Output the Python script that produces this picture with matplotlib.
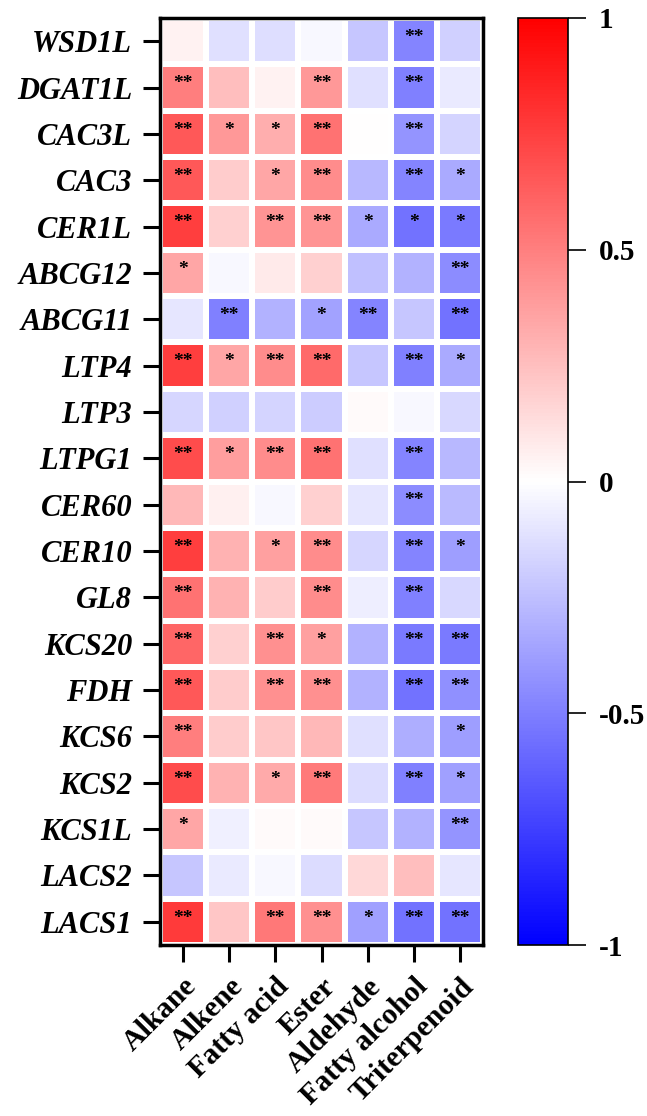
import numpy as np
import matplotlib.pyplot as plt
from matplotlib import colors

genes = ["WSD1L", "DGAT1L", "CAC3L", "CAC3", "CER1L", "ABCG12", "ABCG11", "LTP4",
         "LTP3", "LTPG1", "CER60", "CER10", "GL8", "KCS20", "FDH", "KCS6", "KCS2",
         "KCS1L", "LACS2", "LACS1"]
compounds = ["Alkane", "Alkene", "Fatty acid", "Ester", "Aldehyde", "Fatty alcohol", "Triterpenoid"]

# correlation values (rows = genes, cols = compounds)
corr = np.array([
    [0.05, -0.12, -0.13, -0.03, -0.22, -0.48, -0.18],
    [0.50, 0.25, 0.05, 0.40, -0.12, -0.50, -0.08],
    [0.65, 0.40, 0.32, 0.55, 0.00, -0.42, -0.17],
    [0.65, 0.20, 0.35, 0.45, -0.28, -0.48, -0.33],
    [0.75, 0.18, 0.42, 0.42, -0.33, -0.55, -0.52],
    [0.35, -0.03, 0.08, 0.18, -0.25, -0.30, -0.45],
    [-0.10, -0.50, -0.30, -0.36, -0.48, -0.22, -0.55],
    [0.75, 0.35, 0.45, 0.58, -0.22, -0.50, -0.33],
    [-0.16, -0.18, -0.17, -0.20, 0.02, -0.03, -0.15],
    [0.70, 0.38, 0.45, 0.55, -0.12, -0.48, -0.28],
    [0.28, 0.06, -0.03, 0.18, -0.10, -0.45, -0.27],
    [0.75, 0.30, 0.37, 0.45, -0.16, -0.48, -0.38],
    [0.55, 0.30, 0.20, 0.45, -0.07, -0.50, -0.15],
    [0.60, 0.18, 0.43, 0.37, -0.30, -0.52, -0.52],
    [0.65, 0.20, 0.43, 0.43, -0.30, -0.55, -0.43],
    [0.50, 0.20, 0.22, 0.28, -0.12, -0.32, -0.38],
    [0.70, 0.30, 0.33, 0.52, -0.14, -0.50, -0.37],
    [0.35, -0.06, 0.02, 0.02, -0.22, -0.30, -0.42],
    [-0.22, -0.08, -0.03, -0.14, 0.15, 0.25, -0.10],
    [0.77, 0.22, 0.53, 0.43, -0.37, -0.55, -0.55],
])

# significance marks
sig = [
    ["", "", "", "", "", "**", ""],
    ["**", "", "", "**", "", "**", ""],
    ["**", "*", "*", "**", "", "**", ""],
    ["**", "", "*", "**", "", "**", "*"],
    ["**", "", "**", "**", "*", "*", "*"],
    ["*", "", "", "", "", "", "**"],
    ["", "**", "", "*", "**", "", "**"],
    ["**", "*", "**", "**", "", "**", "*"],
    ["", "", "", "", "", "", ""],
    ["**", "*", "**", "**", "", "**", ""],
    ["", "", "", "", "", "**", ""],
    ["**", "", "*", "**", "", "**", "*"],
    ["**", "", "", "**", "", "**", ""],
    ["**", "", "**", "*", "", "**", "**"],
    ["**", "", "**", "**", "", "**", "**"],
    ["**", "", "", "", "", "", "*"],
    ["**", "", "*", "**", "", "**", "*"],
    ["*", "", "", "", "", "", "**"],
    ["", "", "", "", "", "", ""],
    ["**", "", "**", "**", "*", "**", "**"],
]

serif = "Liberation Serif"

fig = plt.figure(figsize=(6.47, 11.16), dpi=100)
ax = fig.add_axes([160 / 647, 1 - 945 / 1116, 323 / 647, 927 / 1116])
cax = fig.add_axes([518 / 647, 1 - 945 / 1116, 50 / 647, 927 / 1116])

norm = colors.Normalize(vmin=-1, vmax=1)
mesh = ax.pcolormesh(corr, cmap="bwr", norm=norm, edgecolors="white", linewidth=3)
ax.set_xlim(0, len(compounds))
ax.set_ylim(len(genes), 0)

for i in range(len(genes)):
    for j in range(len(compounds)):
        if sig[i][j]:
            ax.text(j + 0.5, i + 0.42, sig[i][j], ha="center", va="center",
                    fontsize=14, family=serif, fontweight="bold", color="black")

ax.set_xticks(np.arange(len(compounds)) + 0.5)
ax.set_xticklabels(compounds, rotation=45, ha="right", rotation_mode="anchor",
                   family=serif, fontweight="bold", fontsize=21.5)
ax.set_yticks(np.arange(len(genes)) + 0.5)
ax.set_yticklabels(genes, family=serif, fontweight="bold", style="italic", fontsize=22)
ax.tick_params(axis="both", direction="out", length=12, width=2.2, pad=8)
ax.tick_params(axis="x", pad=8)
for s in ax.spines.values():
    s.set_linewidth(2.5)

cb = fig.colorbar(mesh, cax=cax, ticks=[-1, -0.5, 0, 0.5, 1])
cb.ax.set_yticklabels(["-1", "-0.5", "0", "0.5", "1"], family=serif, fontweight="bold", fontsize=21)
cb.ax.tick_params(direction="out", length=13, width=1.2, pad=9)
cb.outline.set_linewidth(1.2)

fig.savefig("out.png", dpi=100)
